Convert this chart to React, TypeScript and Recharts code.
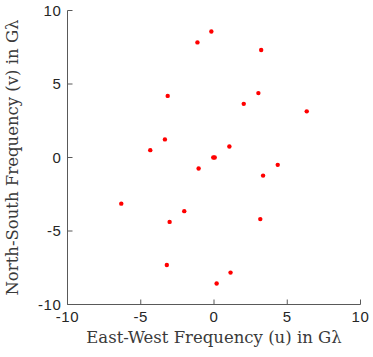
import React from "react";
import { ScatterChart, Scatter, XAxis, YAxis } from "recharts";

const uValues = [-0.18, -1.13, 3.22, -3.16, 3.03, 2.03, 6.33, -3.35, -4.35, 1.05, 0.05, -0.05, -1.05, 4.35, 3.35, -6.33, -2.03, -3.03, 3.16, -3.22, 1.13, 0.18];
const vValues = [8.57, 7.83, 7.31, 4.19, 4.38, 3.65, 3.14, 1.23, 0.5, 0.75, 0.0, 0.0, -0.75, -0.5, -1.23, -3.14, -3.65, -4.38, -4.19, -7.31, -7.83, -8.57];
const axisTicks = [-10, -5, 0, 5, 10];
const xLabel = "East-West Frequency (u) in G\u03bb";
const yLabel = "North-South Frequency (v) in G\u03bb";

const data = uValues.map((u, i) => ({ u, v: vValues[i] }));

const tickStyle = { fontFamily: "'Liberation Sans', Arial, sans-serif", fontSize: 15, fill: "#262626", letterSpacing: 0.6 };
const labelStyle = { fontFamily: "'DejaVu Serif', serif", fontSize: 16.5, fill: "#3a3a3a" };

const Dot = (p: any) => <circle cx={p.cx} cy={p.cy} r={2.2} fill="#ff0000" />;

export default function App() {
  return (
    <div style={{ position: "absolute", left: 0, top: 0, background: "#fff" }}>
      <ScatterChart width={373} height={357} margin={{ top: 10.5, right: 12.5, left: 0, bottom: 0 }}>
        <XAxis
          type="number"
          dataKey="u"
          domain={[-10, 10]}
          ticks={axisTicks}
          height={52.5}
          tickSize={-5}
          tickMargin={12}
          tick={tickStyle}
          stroke="#595959"
          tickLine={{ stroke: "#595959" }}
          label={{ value: xLabel, position: "insideBottom", offset: 14, style: labelStyle }}
          allowDataOverflow
        />
        <YAxis
          type="number"
          dataKey="v"
          domain={[-10, 10]}
          ticks={axisTicks}
          width={67.5}
          tickSize={-5}
          tickMargin={11}
          tick={tickStyle}
          stroke="#595959"
          tickLine={{ stroke: "#595959" }}
          label={{ value: yLabel, angle: -90, position: "insideLeft", offset: 12, style: { ...labelStyle, textAnchor: "middle" } }}
          allowDataOverflow
        />
        <Scatter data={data} shape={Dot} isAnimationActive={false} />
      </ScatterChart>
    </div>
  );
}
